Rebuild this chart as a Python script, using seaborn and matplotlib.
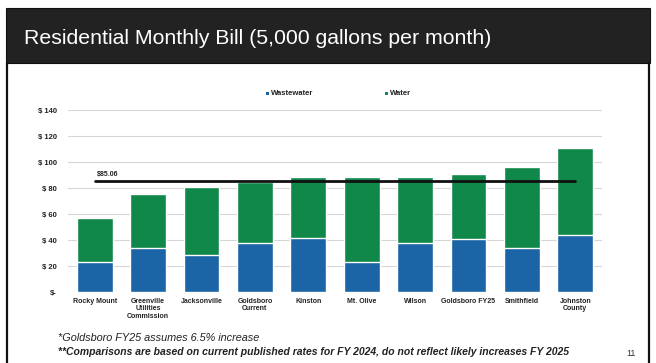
import matplotlib
matplotlib.use("Agg")
import matplotlib.pyplot as plt
import matplotlib.patches as mpatches
import seaborn as sns
import pandas as pd
import numpy as np

categories = ["Rocky Mount", "Greenville\nUtilities\nCommission", "Jacksonville",
              "Goldsboro\nCurrent", "Kinston", "Mt. Olive", "Wilson",
              "Goldsboro FY25", "Smithfield", "Johnston\nCounty"]
wastewater = [23.3, 33.6, 28.5, 38.0, 41.3, 23.3, 38.0, 40.5, 33.6, 43.8]
water = [33.4, 41.5, 52.5, 46.9, 46.9, 65.4, 50.7, 49.9, 62.3, 66.7]
average_value = 85.06
y_ticks = [0, 20, 40, 60, 80, 100, 120, 140]
y_tick_labels = ["$-", "$ 20", "$ 40", "$ 60", "$ 80", "$ 100", "$ 120", "$ 140"]

GREEN = "#10884a"
BLUE = "#1b64a6"

sns.set_theme(style="white")
plt.rcParams["font.family"] = ["Liberation Sans", "DejaVu Sans"]

df = pd.DataFrame({"city": categories, "wastewater": wastewater, "water": water})
df["total"] = df["wastewater"] + df["water"]

W, H = 656, 363
fig = plt.figure(figsize=(W / 100, H / 100), dpi=100)
fig.patch.set_facecolor("white")

# slide frame
fig.add_artist(mpatches.Rectangle((6 / W, 1 - 63 / H), 644 / W, 55 / H,
                                  transform=fig.transFigure, facecolor="#222222",
                                  edgecolor="#111111", lw=0.8))
fig.add_artist(plt.Line2D([7 / W, 7 / W], [0, 1 - 63 / H], transform=fig.transFigure,
                          color="#111111", lw=1.6))
fig.add_artist(plt.Line2D([649 / W, 649 / W], [0, 1 - 63 / H], transform=fig.transFigure,
                          color="#111111", lw=1.6))
fig.text(24 / W, 1 - 38 / H, "Residential Monthly Bill (5,000 gallons per month)",
         color="white", fontsize=15.3, va="center", ha="left")

ax = fig.add_axes([68 / W, 1 - 292 / H, 534 / W, 182 / H])
sns.barplot(data=df, x="city", y="total", color=GREEN, width=0.67, ax=ax,
            saturation=1, label="Water")
sns.barplot(data=df, x="city", y="wastewater", color=BLUE, width=0.67, ax=ax,
            saturation=1, label="Wastewater")
xs = np.arange(len(categories))
ax.plot(xs, [average_value] * len(xs), color="#111111", lw=2, zorder=5)
ax.text(0.05, average_value + 3, f"${average_value:.2f}", fontsize=5,
        fontweight="bold", color="#222222", ha="left", va="bottom")

ax.set_xlim(-0.5, len(categories) - 0.5)
ax.set_ylim(0, 140)
ax.set_yticks(y_ticks)
ax.set_yticklabels(y_tick_labels, fontsize=5.5, fontweight="bold", color="#222222")
ax.set_xticks(xs)
ax.set_xticklabels(categories, fontsize=5, fontweight="bold", color="#222222",
                   linespacing=1.1)
ax.tick_params(axis="y", length=0, pad=8)
ax.tick_params(axis="x", length=0, pad=4)
ax.set_xlabel("")
ax.set_ylabel("")
ax.grid(axis="y", color="#d6d6d6", lw=0.8)
ax.set_axisbelow(True)
for s in ax.spines.values():
    s.set_visible(False)
if ax.get_legend():
    ax.get_legend().remove()

# legend
fig.add_artist(mpatches.Rectangle((266 / W, 1 - 95 / H), 3 / W, 3 / H,
                                  transform=fig.transFigure, facecolor=BLUE, lw=0))
fig.text(271 / W, 1 - 93.5 / H, "Wastewater", fontsize=5.5, fontweight="bold",
         color="#222222", va="center", ha="left")
fig.add_artist(mpatches.Rectangle((385 / W, 1 - 95 / H), 3 / W, 3 / H,
                                  transform=fig.transFigure, facecolor=GREEN, lw=0))
fig.text(390 / W, 1 - 93.5 / H, "Water", fontsize=5.5, fontweight="bold",
         color="#222222", va="center", ha="left")

# footnotes
fig.text(58 / W, 1 - 338 / H, "*Goldsboro FY25 assumes 6.5% increase", fontsize=7.8,
         fontstyle="italic", color="#222222", va="center", ha="left")
fig.text(58 / W, 1 - 352 / H,
         "**Comparisons are based on current published rates for FY 2024, do not reflect likely increases FY 2025",
         fontsize=7.5, fontstyle="italic", fontweight="bold", color="#222222",
         va="center", ha="left")
fig.text(631 / W, 1 - 354 / H, "11", fontsize=6.5, color="#333333", va="center", ha="center")

fig.savefig("out.png", dpi=100)
